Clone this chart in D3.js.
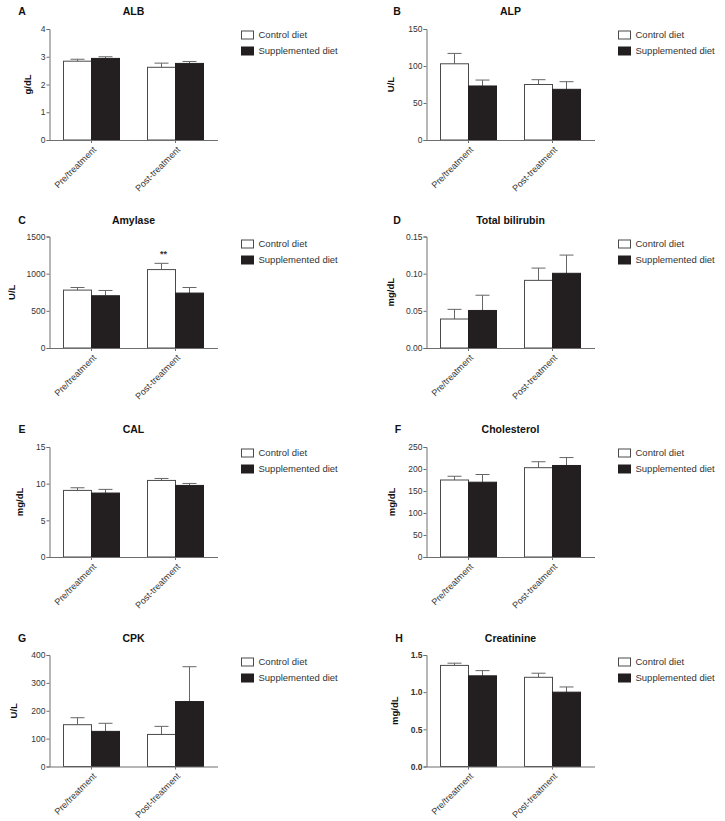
<!DOCTYPE html>
<html>
<head>
<meta charset="utf-8">
<script src="https://cdn.jsdelivr.net/npm/d3@7"></script>
<style>
  html, body { margin: 0; padding: 0; background: #ffffff; }
  svg { display: block; font-family: "Liberation Sans", Arial, sans-serif; }
</style>
</head>
<body>
<svg id="chart" width="725" height="821"></svg>
<script>
// ---------- data ----------
const categories = ["Pre/treatment", "Post-treatment"];
const seriesNames = ["Control diet", "Supplemented diet"];

const panelLetters = ["A", "B", "C", "D", "E", "F", "G", "H"];
const panelTitles = ["ALB", "ALP", "Amylase", "Total bilirubin", "CAL", "Cholesterol", "CPK", "Creatinine"];
const panelUnits = ["g/dL", "U/L", "U/L", "mg/dL", "mg/dL", "mg/dL", "U/L", "mg/dL"];

const albControl = [2.84, 2.62],  albControlErr = [0.07, 0.15];
const albSupp = [2.94, 2.76],     albSuppErr = [0.06, 0.07];
const alpControl = [103, 75],     alpControlErr = [14, 6.5];
const alpSupp = [73, 68.5],       alpSuppErr = [8, 10.3];
const amyControl = [779, 1055],   amyControlErr = [35, 84];
const amySupp = [703, 739],       amySuppErr = [71, 75];
const bilControl = [0.039, 0.091], bilControlErr = [0.013, 0.0165];
const bilSupp = [0.0505, 0.1005],  bilSuppErr = [0.0205, 0.0245];
const calControl = [9.08, 10.44], calControlErr = [0.36, 0.27];
const calSupp = [8.72, 9.76],     calSuppErr = [0.5, 0.27];
const choControl = [175, 203],    choControlErr = [8.5, 13.5];
const choSupp = [170, 208],       choSuppErr = [17.5, 18];
const cpkControl = [150, 115],    cpkControlErr = [25, 29];
const cpkSupp = [126, 233],       cpkSuppErr = [29, 125];
const creControl = [1.36, 1.20],  creControlErr = [0.03, 0.055];
const creSupp = [1.22, 1.0],      creSuppErr = [0.07, 0.07];

const albTicks = [0, 1, 2, 3, 4];
const alpTicks = [0, 50, 100, 150];
const amyTicks = [0, 500, 1000, 1500];
const bilTicks = [0, 0.05, 0.10, 0.15];
const calTicks = [0, 5, 10, 15];
const choTicks = [0, 50, 100, 150, 200, 250];
const cpkTicks = [0, 100, 200, 300, 400];
const creTicks = [0, 0.5, 1.0, 1.5];

const tickFormats = ["d", "d", "d", ".2f", "d", "d", "d", ".1f"];

// significance marker: [panel index, category index, series index, text]
const sigMarks = [[2, 1, 0, "**"]];

const panelData = [
  [albControl, albControlErr, albSupp, albSuppErr, albTicks],
  [alpControl, alpControlErr, alpSupp, alpSuppErr, alpTicks],
  [amyControl, amyControlErr, amySupp, amySuppErr, amyTicks],
  [bilControl, bilControlErr, bilSupp, bilSuppErr, bilTicks],
  [calControl, calControlErr, calSupp, calSuppErr, calTicks],
  [choControl, choControlErr, choSupp, choSuppErr, choTicks],
  [cpkControl, cpkControlErr, cpkSupp, cpkSuppErr, cpkTicks],
  [creControl, creControlErr, creSupp, creSuppErr, creTicks]
];

// ---------- layout ----------
const colAxisX = [49.5, 426.5];
const plotW = 168;
const rowTop = [29, 236.5, 447, 655];
const rowZero = [140, 348, 557, 766.5];
const rowTitleY = [11, 220, 429, 638];
const ylabelX = [28, 391, 12, 391, 20, 392, 14, 395];
const letterX = [22, 397, 22, 397, 22, 398, 22, 399];

const axisColor = "#6e6e6e";
const textColor = "#333333";
const barStroke = "#4a4a4a";
const darkFill = "#231f20";
const errColor = "#666666";

const svg = d3.select("#chart");

panelData.forEach((pd, i) => {
  const col = i % 2, row = Math.floor(i / 2);
  const x0 = colAxisX[col];
  const yT = rowTop[row], yZ = rowZero[row];
  const [cMean, cErr, sMean, sErr, ticks] = pd;
  const g = svg.append("g");

  const x = d3.scaleBand().domain(categories).range([x0, x0 + plotW])
    .paddingInner(1 / 3).paddingOuter(1 / 6);
  const xs = d3.scaleBand().domain(seriesNames).range([0, x.bandwidth()]).padding(0);
  const y = d3.scaleLinear().domain([ticks[0], ticks[ticks.length - 1]]).range([yZ, yT]);

  const rows = [];
  categories.forEach((c, ci) => {
    rows.push({cat: c, ser: seriesNames[0], v: cMean[ci], e: cErr[ci]});
    rows.push({cat: c, ser: seriesNames[1], v: sMean[ci], e: sErr[ci]});
  });

  // error bars (upper only)
  rows.forEach(d => {
    const cx = x(d.cat) + xs(d.ser) + xs.bandwidth() / 2;
    const capHalf = xs.bandwidth() / 4;
    g.append("line").attr("x1", cx).attr("x2", cx)
      .attr("y1", y(d.v)).attr("y2", y(d.v + d.e))
      .attr("stroke", errColor).attr("stroke-width", 1);
    g.append("line").attr("x1", cx - capHalf).attr("x2", cx + capHalf)
      .attr("y1", y(d.v + d.e)).attr("y2", y(d.v + d.e))
      .attr("stroke", errColor).attr("stroke-width", 1);
  });

  // bars
  g.selectAll("rect.bar").data(rows).enter().append("rect")
    .attr("class", "bar")
    .attr("x", d => x(d.cat) + xs(d.ser))
    .attr("y", d => y(d.v))
    .attr("width", xs.bandwidth())
    .attr("height", d => yZ - y(d.v))
    .attr("fill", d => d.ser === seriesNames[0] ? "#ffffff" : darkFill)
    .attr("stroke", d => d.ser === seriesNames[0] ? barStroke : darkFill)
    .attr("stroke-width", 1);

  // y axis
  const yAxis = d3.axisLeft(y).tickValues(ticks).tickSize(3).tickPadding(1)
    .tickFormat(d3.format(tickFormats[i]));
  const ya = g.append("g").attr("transform", `translate(${x0},0)`).call(yAxis);
  ya.select(".domain").attr("stroke", axisColor);
  ya.selectAll(".tick line").attr("stroke", axisColor);
  ya.selectAll(".tick text").attr("fill", textColor)
    .style("font-size", "8.5px")
    .style("font-weight", i === 7 ? "bold" : "normal");

  // x axis
  const xAxis = d3.axisBottom(x).tickSize(3).tickSizeOuter(0).tickFormat("");
  const xa = g.append("g").attr("transform", `translate(0,${yZ})`).call(xAxis);
  xa.select(".domain").attr("stroke", axisColor);
  xa.selectAll(".tick line").attr("stroke", axisColor);

  // rotated category labels
  categories.forEach(c => {
    const cx = x(c) + x.bandwidth() / 2;
    g.append("text")
      .attr("transform", `translate(${cx + 3},${yZ + 8}) rotate(-45)`)
      .attr("text-anchor", "end").attr("dy", "0.35em")
      .attr("fill", textColor).style("font-size", "9px")
      .text(c);
  });

  // y label
  g.append("text")
    .attr("transform", `translate(${ylabelX[i]},${(yT + yZ) / 2}) rotate(-90)`)
    .attr("text-anchor", "middle").attr("dy", "0.35em")
    .style("font-size", "9.5px").style("font-weight", "bold").attr("fill", "#111")
    .text(panelUnits[i]);

  // title and letter
  g.append("text").attr("x", x0 + plotW / 2).attr("y", rowTitleY[row])
    .attr("text-anchor", "middle").attr("dy", "0.35em")
    .style("font-size", "10.5px").style("font-weight", "bold").attr("fill", "#111")
    .text(panelTitles[i]);
  g.append("text").attr("x", letterX[i]).attr("y", rowTitleY[row])
    .attr("text-anchor", "middle").attr("dy", "0.35em")
    .style("font-size", "10.5px").style("font-weight", "bold").attr("fill", "#111")
    .text(panelLetters[i]);

  // legend
  const lx = x0 + 192, ly = rowTitleY[row] + 24;
  seriesNames.forEach((s, si) => {
    const yy = ly + si * 16;
    g.append("rect").attr("x", lx).attr("y", yy - 4).attr("width", 12).attr("height", 8)
      .attr("fill", si === 0 ? "#ffffff" : darkFill)
      .attr("stroke", si === 0 ? barStroke : darkFill).attr("stroke-width", 1);
    g.append("text").attr("x", lx + 17).attr("y", yy).attr("dy", "0.35em")
      .style("font-size", "9.5px").attr("fill", textColor).text(s);
  });

  // significance markers
  sigMarks.filter(m => m[0] === i).forEach(m => {
    const ci = m[1], si = m[2];
    const mean = si === 0 ? cMean[ci] : sMean[ci];
    const err = si === 0 ? cErr[ci] : sErr[ci];
    const cx = x(categories[ci]) + xs(seriesNames[si]) + xs.bandwidth() / 2;
    g.append("text").attr("x", cx + 2).attr("y", y(mean + err) - 6)
      .attr("text-anchor", "middle")
      .style("font-size", "9px").style("font-weight", "bold").attr("fill", textColor)
      .text(m[3]);
  });
});
</script>
</body>
</html>
